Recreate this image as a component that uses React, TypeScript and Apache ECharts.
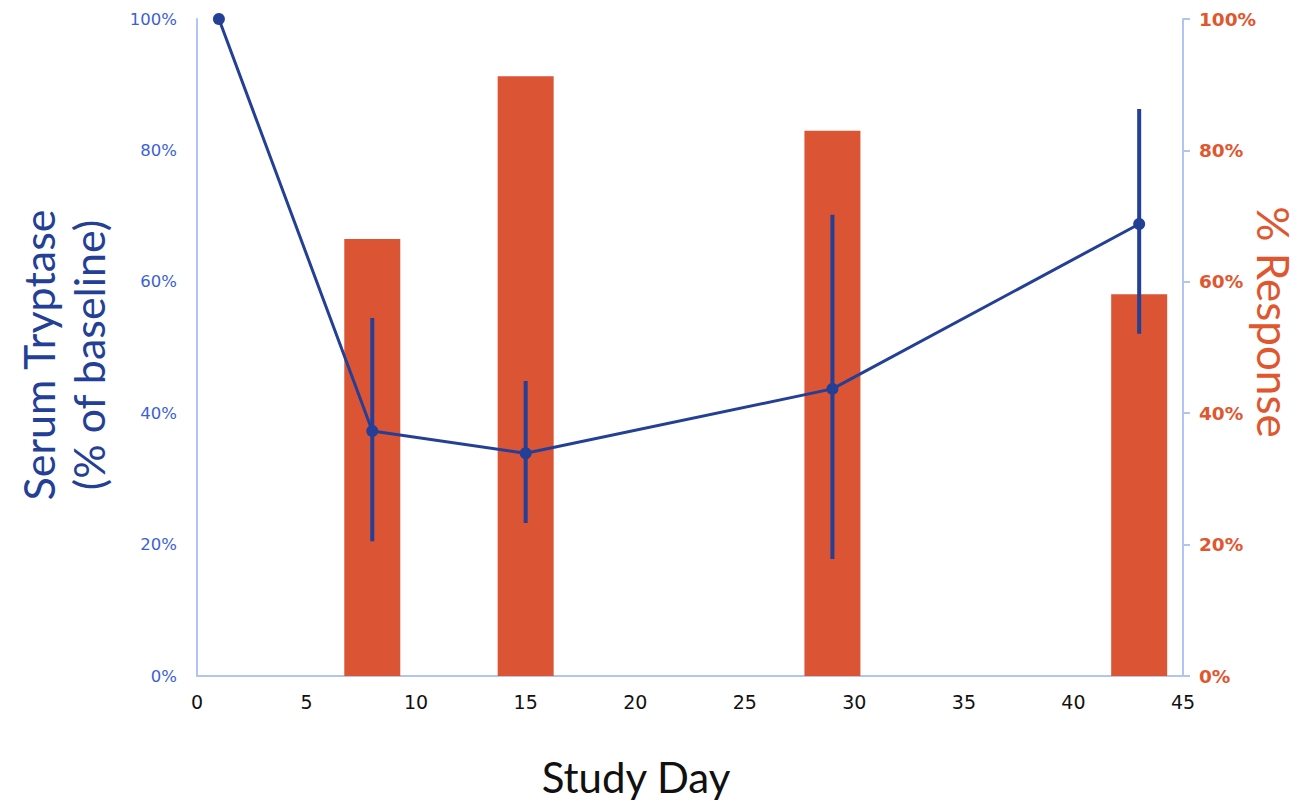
import React, { useEffect, useRef } from "react";
import * as echarts from "echarts";

const days = [1, 8, 15, 29, 43];
const tryptase = [100, 37.3, 33.9, 43.7, 68.8];
const errLow = [100, 20.5, 23.3, 17.8, 52.1];
const errHigh = [100, 54.5, 44.9, 70.2, 86.3];
const barDays = [8, 15, 29, 43];
const responsePct = [66.5, 91.3, 83.0, 58.1];
const xTicks = [0, 5, 10, 15, 20, 25, 30, 35, 40, 45];

const BLUE_DARK = "#233f96";
const BLUE_LABEL = "#3c5fd6";
const ORANGE = "#db5534";
const ORANGE_LABEL = "#e0572f";
const AXIS = "#b3c4f2";

export default function App() {
  const ref = useRef<HTMLDivElement>(null);
  useEffect(() => {
    if (!ref.current) return;
    const chart = echarts.init(ref.current, undefined, { renderer: "svg" });
    const option: any = {
      animation: false,
      backgroundColor: "#ffffff",
      grid: { left: 197, right: 119, top: 19, bottom: 128, containLabel: false },
      xAxis: {
        type: "value",
        min: xTicks[0],
        max: xTicks[xTicks.length - 1],
        interval: 5,
        axisLine: { show: true, onZero: false, lineStyle: { color: AXIS, width: 2 } },
        axisTick: { show: false },
        splitLine: { show: false },
        axisLabel: { color: "#111", fontSize: 19, margin: 16, fontFamily: "DejaVu Sans" },
      },
      yAxis: [
        {
          type: "value",
          min: 0,
          max: 100,
          interval: 20,
          position: "left",
          axisLine: { show: true, lineStyle: { color: AXIS, width: 2 } },
          axisTick: { show: false },
          splitLine: { show: false },
          axisLabel: {
            color: BLUE_LABEL,
            fontSize: 16.5,
            margin: 20,
            fontFamily: "DejaVu Sans",
            formatter: (v: number) => v + "%",
          },
        },
        {
          type: "value",
          min: 0,
          max: 100,
          interval: 20,
          position: "right",
          axisLine: { show: true, lineStyle: { color: AXIS, width: 2 } },
          axisTick: { show: true, inside: false, length: 7, lineStyle: { color: AXIS, width: 2 } },
          splitLine: { show: false },
          axisLabel: {
            color: ORANGE_LABEL,
            fontSize: 18.5,
            fontWeight: "bold",
            margin: 16,
            fontFamily: "DejaVu Sans",
            formatter: (v: number) => v + "%",
          },
        },
      ],
      series: [
        {
          type: "bar",
          yAxisIndex: 1,
          barWidth: 56,
          itemStyle: { color: ORANGE },
          z: 1,
          data: barDays.map((d, i) => [d, responsePct[i]]),
        },
        {
          type: "line",
          yAxisIndex: 0,
          z: 3,
          symbol: "circle",
          symbolSize: 12,
          lineStyle: { color: BLUE_DARK, width: 3 },
          itemStyle: { color: BLUE_DARK },
          data: days.map((d, i) => [d, tryptase[i]]),
        },
        {
          type: "custom",
          yAxisIndex: 0,
          z: 4,
          data: days.map((d, i) => [d, errLow[i], errHigh[i]]),
          renderItem: (params: any, api: any) => {
            const x = api.value(0);
            const lo = api.coord([x, api.value(1)]);
            const hi = api.coord([x, api.value(2)]);
            return {
              type: "line",
              shape: { x1: lo[0], y1: lo[1], x2: hi[0], y2: hi[1] },
              style: { stroke: BLUE_DARK, lineWidth: 4 },
            };
          },
        },
      ],
      graphic: [
        {
          type: "text",
          x: 63,
          y: 355,
          rotation: Math.PI / 2,
          style: {
            text: "Serum Tryptase\n(% of baseline)",
            fill: BLUE_DARK,
            fontSize: 43,
            fontFamily: "Lato",
            lineHeight: 50,
            align: "center",
            verticalAlign: "middle",
          },
        },
        {
          type: "text",
          x: 1274,
          y: 322,
          rotation: -Math.PI / 2,
          style: {
            text: "% Response",
            fill: ORANGE_LABEL,
            fontSize: 44,
            lineHeight: 50,
            fontFamily: "Lato",
            align: "center",
            verticalAlign: "middle",
          },
        },
        {
          type: "text",
          x: 636,
          y: 777,
          style: {
            text: "Study Day",
            fill: "#111",
            fontSize: 42,
            lineHeight: 48,
            fontFamily: "Lato",
            align: "center",
            verticalAlign: "middle",
          },
        },
      ],
    };
    chart.setOption(option);
    return () => chart.dispose();
  }, []);
  return (
    <div
      ref={ref}
      style={{ position: "fixed", left: 0, top: 0, width: 1302, height: 804, background: "#fff" }}
    />
  );
}
